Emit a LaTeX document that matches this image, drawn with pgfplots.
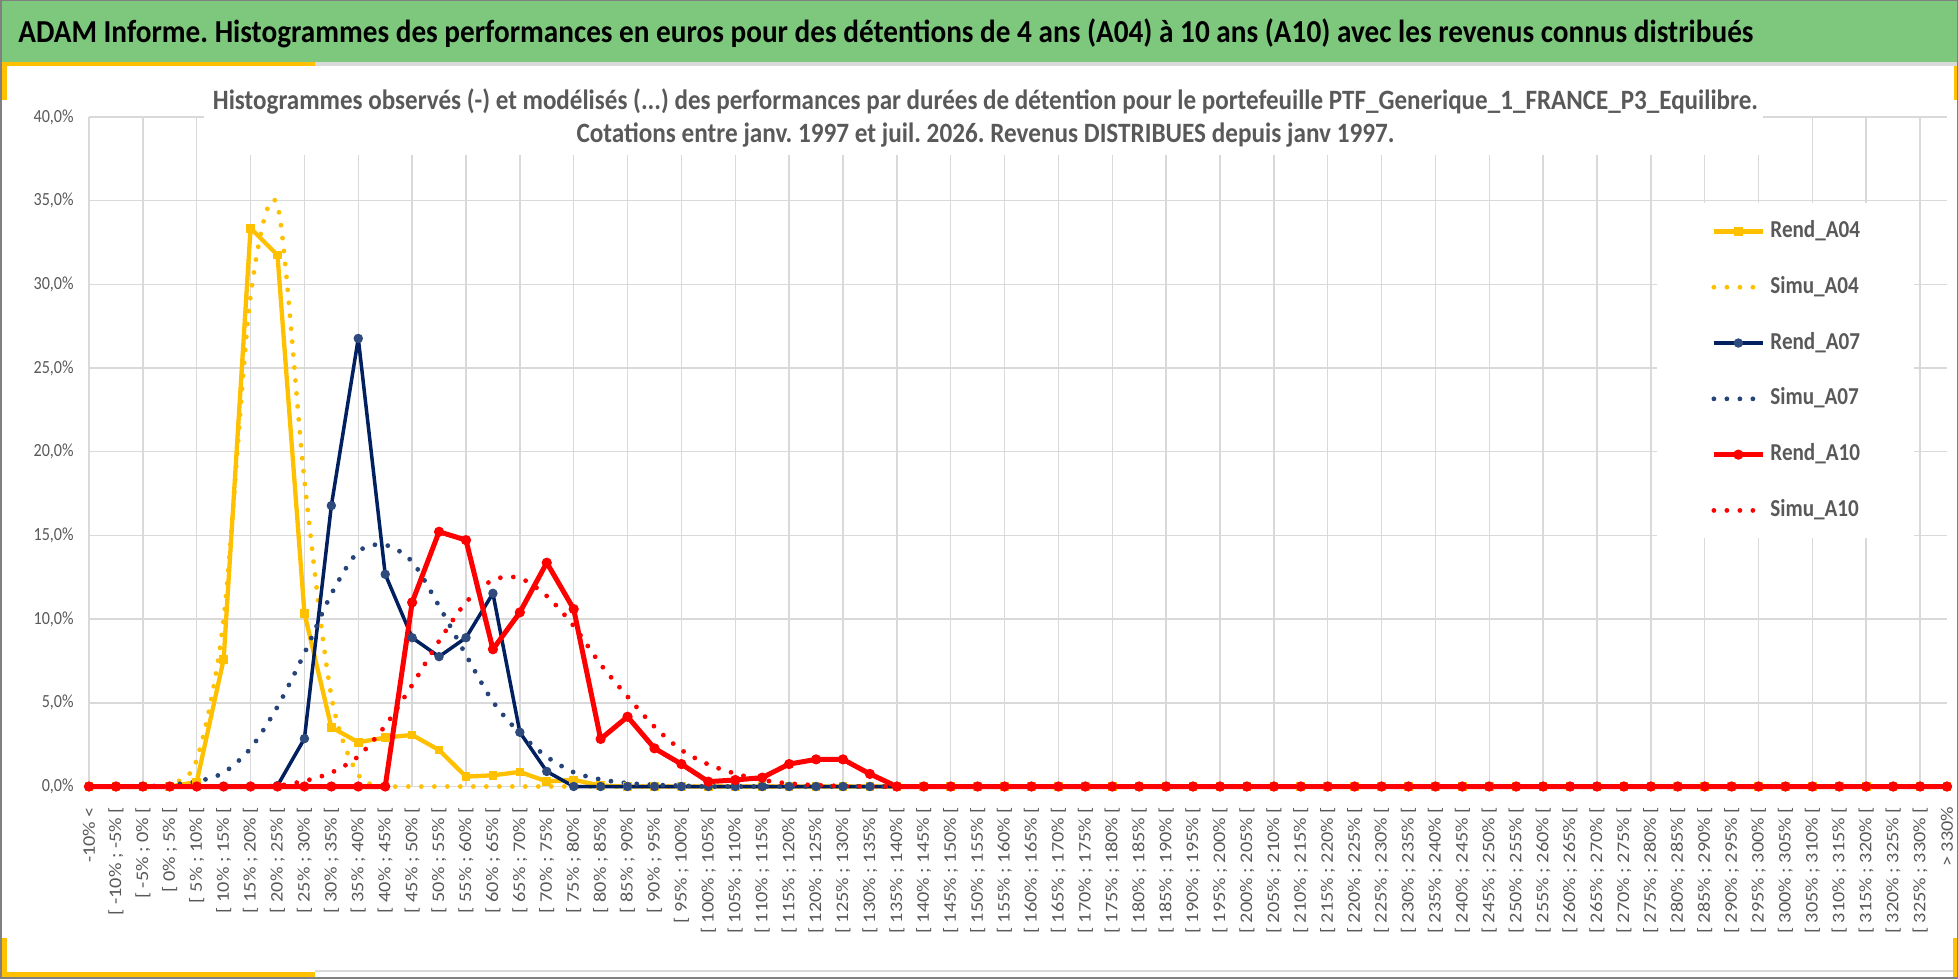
\documentclass[border=0pt]{standalone}
\usepackage{fontspec}
\setmainfont{Carlito}
\newfontfamily\cfont{Carlito}[FakeStretch=0.87]
\newfontfamily\pfont{Carlito}
\usepackage{graphicx}
\usepackage{pgfplots}
\pgfplotsset{compat=1.18}
\usepackage{pgfplotstable}
\frenchspacing

\definecolor{cyel}{RGB}{255,192,0}
\definecolor{cnavy}{RGB}{0,32,96}
\definecolor{cnavym}{RGB}{47,75,125}
\definecolor{csimu7}{RGB}{38,68,120}
\definecolor{cred}{RGB}{255,0,0}
\definecolor{cgrid}{RGB}{217,217,217}
\definecolor{ctxt}{RGB}{89,89,89}
\definecolor{cgreen}{RGB}{126,200,126}
\definecolor{cborder}{RGB}{128,128,128}

\pgfplotstableread{
k RA04 SA04 RA07 SA07 RA10 SA10
0 0 0 0 0 0 0
1 0 0 0 0 0 0
2 0 0 0 0 0 0
3 0 0.15 0 0.1 0 0
4 0.27 1.6 0 0.3 0 0
5 7.6 10.0 0 0.83 0 0
6 33.35 29.3 0 2.28 0 0
7 31.75 34.7 0.05 4.77 0 0.05
8 10.35 18.3 2.86 7.96 0 0.33
9 3.54 5.4 16.78 11.5 0 0.83
10 2.64 0.7 26.77 14.03 0 1.8
11 2.92 0.05 12.68 14.43 0 3.63
12 3.08 0 8.89 13.43 11.0 6.06
13 2.18 0 7.76 10.78 15.22 8.69
14 0.59 0 8.89 7.86 14.72 11.0
15 0.67 0 11.54 5.07 8.2 12.34
16 0.87 0 3.24 3.18 10.4 12.45
17 0.3 0 0.9 1.78 13.37 11.38
18 0.4 0 0 0.85 10.6 9.59
19 0.05 0 0 0.42 2.84 7.3
20 0 0 0 0.2 4.17 5.37
21 0 0 0 0.1 2.28 3.57
22 0 0 0 0.05 1.34 2.18
23 0 0 0 0 0.29 1.32
24 0 0 0 0 0.39 0.77
25 0 0 0 0 0.53 0.39
26 0 0 0 0 1.34 0.18
27 0 0 0 0 1.62 0.08
28 0 0 0 0 1.62 0.03
29 0 0 0 0 0.75 0
30 0 0 0 0 0 0
31 0 0 0 0 0 0
32 0 0 0 0 0 0
33 0 0 0 0 0 0
34 0 0 0 0 0 0
35 0 0 0 0 0 0
36 0 0 0 0 0 0
37 0 0 0 0 0 0
38 0 0 0 0 0 0
39 0 0 0 0 0 0
40 0 0 0 0 0 0
41 0 0 0 0 0 0
42 0 0 0 0 0 0
43 0 0 0 0 0 0
44 0 0 0 0 0 0
45 0 0 0 0 0 0
46 0 0 0 0 0 0
47 0 0 0 0 0 0
48 0 0 0 0 0 0
49 0 0 0 0 0 0
50 0 0 0 0 0 0
51 0 0 0 0 0 0
52 0 0 0 0 0 0
53 0 0 0 0 0 0
54 0 0 0 0 0 0
55 0 0 0 0 0 0
56 0 0 0 0 0 0
57 0 0 0 0 0 0
58 0 0 0 0 0 0
59 0 0 0 0 0 0
60 0 0 0 0 0 0
61 0 0 0 0 0 0
62 0 0 0 0 0 0
63 0 0 0 0 0 0
64 0 0 0 0 0 0
65 0 0 0 0 0 0
66 0 0 0 0 0 0
67 0 0 0 0 0 0
68 0 0 0 0 0 0
69 0 0 0 0 0 0
}\data

\newcommand\titletext{\pfont\bfseries\fontsize{16pt}{18pt}\selectfont ADAM Informe. Histogrammes des performances en euros pour des détentions de 4 ans (A04) à 10 ans (A10) avec les revenus connus distribués}
\newcommand\subone{\pfont\bfseries\fontsize{14pt}{16pt}\selectfont Histogrammes observés (-) et modélisés (...) des performances par durées de détention pour le portefeuille PTF\_Generique\_1\_FRANCE\_P3\_Equilibre.}
\newcommand\subtwo{\pfont\bfseries\fontsize{14pt}{16pt}\selectfont Cotations entre janv. 1997 et juil. 2026. Revenus DISTRIBUES depuis janv 1997.}

\begin{document}
\begin{tikzpicture}
\useasboundingbox (0,0) rectangle (979pt,489.5pt);
\fill[white] (0,0) rectangle (979pt,489.5pt);
% top band
\fill[cgreen] (0,458.5pt) rectangle (979pt,489.5pt);
\fill[cgrid] (157.5pt,456.5pt) rectangle (979pt,458.5pt);
\fill[cyel] (0,456.5pt) rectangle (157.5pt,458.5pt);
\fill[cyel] (0,439.5pt) rectangle (3.5pt,456.5pt);
\fill[cyel] (977pt,439.5pt) rectangle (979pt,456.5pt);
% bottom decorations
\fill[cgrid] (157.5pt,3.5pt) rectangle (977pt,4.3pt);
\fill[cyel] (0,1pt) rectangle (157.5pt,3.5pt);
\fill[cyel] (0,1pt) rectangle (3.5pt,20.5pt);
\fill[cyel] (976.5pt,1pt) rectangle (979pt,20.5pt);

\begin{axis}[
  at={(44.5pt,96.25pt)}, anchor=south west,
  width=929pt, height=334.75pt, scale only axis,
  xmin=0, xmax=69, ymin=0, ymax=40,
  clip=false,
  axis line style={draw=none},
  major tick length=0pt, minor tick length=0pt,
  xtick={0,...,69}, minor xtick={0,2,...,68}, xminorgrids=true, xmajorgrids=false,
  ytick={0,5,...,40}, ymajorgrids=true,
  major grid style={cgrid, line width=0.75pt},
  minor grid style={cgrid, line width=0.75pt},
  yticklabels={{0,0\%},{5,0\%},{10,0\%},{15,0\%},{20,0\%},{25,0\%},{30,0\%},{35,0\%},{40,0\%}},
  yticklabel style={font=\cfont\fontsize{9.25pt}{11pt}\selectfont, text=ctxt, inner sep=0pt, anchor=east},
  yticklabel shift=7.5pt,
  xticklabel style={font=\pfont\fontsize{10.15pt}{12pt}\selectfont, text=ctxt, inner sep=0pt, xscale=0.87, rotate=90, anchor=east},
  xticklabel shift=10pt,
  xticklabels={{-10\% <},{[ -10\% ; -5\% [},{[ -5\% ; 0\% [},{[ 0\% ; 5\% [},{[ 5\% ; 10\% [},{[ 10\% ; 15\% [},{[ 15\% ; 20\% [},{[ 20\% ; 25\% [},{[ 25\% ; 30\% [},{[ 30\% ; 35\% [},{[ 35\% ; 40\% [},{[ 40\% ; 45\% [},{[ 45\% ; 50\% [},{[ 50\% ; 55\% [},{[ 55\% ; 60\% [},{[ 60\% ; 65\% [},{[ 65\% ; 70\% [},{[ 70\% ; 75\% [},{[ 75\% ; 80\% [},{[ 80\% ; 85\% [},{[ 85\% ; 90\% [},{[ 90\% ; 95\% [},{[ 95\% ; 100\% [},{[ 100\% ; 105\% [},{[ 105\% ; 110\% [},{[ 110\% ; 115\% [},{[ 115\% ; 120\% [},{[ 120\% ; 125\% [},{[ 125\% ; 130\% [},{[ 130\% ; 135\% [},{[ 135\% ; 140\% [},{[ 140\% ; 145\% [},{[ 145\% ; 150\% [},{[ 150\% ; 155\% [},{[ 155\% ; 160\% [},{[ 160\% ; 165\% [},{[ 165\% ; 170\% [},{[ 170\% ; 175\% [},{[ 175\% ; 180\% [},{[ 180\% ; 185\% [},{[ 185\% ; 190\% [},{[ 190\% ; 195\% [},{[ 195\% ; 200\% [},{[ 200\% ; 205\% [},{[ 205\% ; 210\% [},{[ 210\% ; 215\% [},{[ 215\% ; 220\% [},{[ 220\% ; 225\% [},{[ 225\% ; 230\% [},{[ 230\% ; 235\% [},{[ 235\% ; 240\% [},{[ 240\% ; 245\% [},{[ 245\% ; 250\% [},{[ 250\% ; 255\% [},{[ 255\% ; 260\% [},{[ 260\% ; 265\% [},{[ 265\% ; 270\% [},{[ 270\% ; 275\% [},{[ 275\% ; 280\% [},{[ 280\% ; 285\% [},{[ 285\% ; 290\% [},{[ 290\% ; 295\% [},{[ 295\% ; 300\% [},{[ 300\% ; 305\% [},{[ 305\% ; 310\% [},{[ 310\% ; 315\% [},{[ 315\% ; 320\% [},{[ 320\% ; 325\% [},{[ 325\% ; 330\% [},{> 330\%}},
  legend image code/.code={\draw[mark repeat=2,mark phase=2,#1] plot coordinates {(0pt,0pt) (12.25pt,0pt) (24.5pt,0pt)};},
  legend cell align=left,
  legend style={at={(0.8439,0.8715)}, anchor=north west, draw=none, fill=white,
    inner xsep=27pt, inner ysep=8pt, row sep=15.9pt,
    font=\cfont\bfseries\fontsize{12.15pt}{14pt}\selectfont,
    nodes={inner sep=0pt, text height=9pt, text depth=3pt, text=ctxt},
    /tikz/every odd column/.append style={column sep=2.5pt}},
]
\addplot[cyel, line width=2.15pt, line join=round, mark=square*, mark size=1.9pt, mark options={solid, line width=0.5pt}] table[x=k,y=RA04]{\data};
\addlegendentry{Rend\_A04}
\addplot[cyel, line width=2.4pt, smooth, line cap=round, dash pattern=on 0pt off 6.5pt] table[x=k,y=SA04]{\data};
\addlegendentry{Simu\_A04}
\addplot[cnavy, line width=1.75pt, line join=round, mark=*, mark size=2.1pt, mark options={solid, fill=cnavym, draw=cnavym, line width=0.5pt}] table[x=k,y=RA07]{\data};
\addlegendentry{Rend\_A07}
\addplot[csimu7, line width=2.4pt, smooth, line cap=round, dash pattern=on 0pt off 6.5pt] table[x=k,y=SA07]{\data};
\addlegendentry{Simu\_A07}
\addplot[cred, line width=2.5pt, line join=round, mark=*, mark size=2.3pt, mark options={solid, line width=0.5pt}] table[x=k,y=RA10]{\data};
\addlegendentry{Rend\_A10}
\addplot[cred, line width=2.4pt, smooth, line cap=round, dash pattern=on 0pt off 6.5pt] table[x=k,y=SA10]{\data};
\addlegendentry{Simu\_A10}
\end{axis}

% white box behind the chart title
\fill[white] (102pt,412pt) rectangle (881.5pt,456.5pt);
\node[anchor=base west, inner sep=0pt] at (9pt,468pt) {\resizebox{867.5pt}{\height}{\titletext}};
\node[anchor=base, inner sep=0pt, text=ctxt] at (492.75pt,434.75pt) {\resizebox{772.5pt}{\height}{\subone}};
\node[anchor=base, inner sep=0pt, text=ctxt] at (492.75pt,418.25pt) {\resizebox{409pt}{\height}{\subtwo}};
\draw[cborder, line width=0.75pt] (0.375pt,0.375pt) rectangle (978.625pt,489.125pt);
\end{tikzpicture}
\end{document}
